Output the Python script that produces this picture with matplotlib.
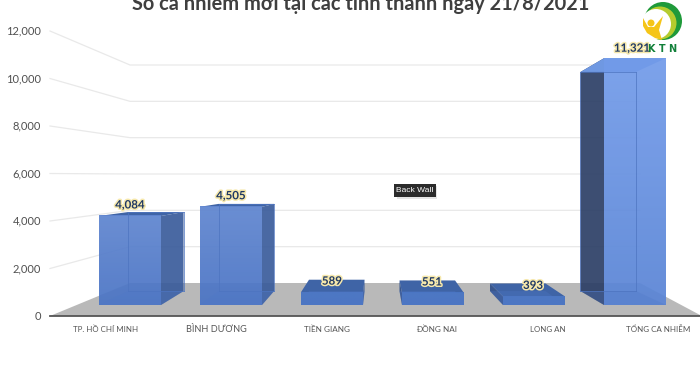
import matplotlib
matplotlib.use("Agg")
import matplotlib.pyplot as plt
import matplotlib.patheffects as pe
import numpy as np
from matplotlib.colors import to_rgb
from matplotlib.patches import Circle, Polygon, Rectangle

categories = ["TP. HỒ CHÍ MINH", "BÌNH DƯƠNG", "TIỀN GIANG", "ĐỒNG NAI", "LONG AN", "TỔNG CA NHIỄM"]
values = [4084, 4505, 589, 551, 393, 11321]
value_labels = ["4,084", "4,505", "589", "551", "393", "11,321"]
y_ticks = [0, 2000, 4000, 6000, 8000, 10000, 12000]
y_tick_labels = ["0", "2,000", "4,000", "6,000", "8,000", "10,000", "12,000"]

# chart geometry, in image pixels
NEAR_BASE = 305
NEAR_SCALE = 0.0218
VP_X, VP_Y = 378, 181
KX, KY = 0.896, 0.888
BAR_LEFT, BAR_STEP, BAR_W = 99, 101, 62
AXIS_Y, WALL_BASE = 316, 283
AXIS_STEP = (316 - 31) / 12000
WALL_STEP = (283 - 65) / 12000
FONT = "Lato"


def far(x, y):
    return VP_X + (x - VP_X) * KX, VP_Y + (y - VP_Y) * KY


def face(ax, pts, color, alpha=1.0, z=3):
    ax.add_patch(Polygon(pts, closed=True, facecolor=color, edgecolor="none", alpha=alpha, zorder=z))


def front(ax, x0, x1, top, c_top, c_bottom, alpha=0.93, z=4):
    grad = np.linspace(to_rgb(c_top), to_rgb(c_bottom), 64)[:, None, :]
    ax.imshow(grad, extent=(x0, x1, NEAR_BASE, top), aspect="auto", alpha=alpha, zorder=z, interpolation="bilinear")


fig = plt.figure(figsize=(7, 3.66), dpi=100)
ax = fig.add_axes([0, 0, 1, 1])

# walls and floor
for v, lab in zip(y_ticks, y_tick_labels):
    y_ax = AXIS_Y - v * AXIS_STEP
    y_wall = WALL_BASE - v * WALL_STEP
    if v > 0:
        ax.plot([50, 130, 640], [y_ax, y_wall, y_wall], color="#e9e9e9", lw=0.9, zorder=1)
    ax.text(41, y_ax, lab, ha="right", va="center", fontsize=8, family=FONT, color="#505050")

face(ax, [(50, AXIS_Y), (130, WALL_BASE), (640, WALL_BASE), (700, 315), (700, AXIS_Y)], "#b9b9b9", z=2)
ax.plot([50, 700], [AXIS_Y, AXIS_Y], color="#555555", lw=1.3, zorder=2)

# bars
for i, v in enumerate(values):
    x0 = BAR_LEFT + i * BAR_STEP
    x1 = x0 + BAR_W
    top = NEAR_BASE - v * NEAR_SCALE
    big = i == 5
    fx0, ft = far(x0, top)
    fx1, _ = far(x1, top)
    _, fb = far(x0, NEAR_BASE)

    if x1 < VP_X:
        face(ax, [(x1, top), (fx1, ft), (fx1, fb), (x1, NEAR_BASE)], "#3a5c9b", 0.92)
    elif x0 > VP_X:
        face(ax, [(x0, top), (fx0, ft), (fx0, fb), (x0, NEAR_BASE)], "#2c3f66" if big else "#2f4f8a", 0.92)
    face(ax, [(fx0, ft), (fx1, ft), (x1, top), (x0, top)], "#6f98e2" if big else "#3f64a6", z=4)
    if big:
        front(ax, x0, x1, top, "#739cea", "#5a85d6")
    elif v > 1000:
        front(ax, x0, x1, top, "#5f85d0", "#4a74c4")
    else:
        front(ax, x0, x1, top, "#4a76c4", "#4a74c2", alpha=0.97)
    # floor of the bar shows through the front
    face(ax, [(x0, NEAR_BASE), (fx0, fb), (fx1, fb), (x1, NEAR_BASE)], "#4f78c8", 0.3, z=5)
    # hidden back edges
    edge = "#4d74c0"
    if v > 1000:
        ax.plot([fx0, fx1], [fb, fb], color=edge, lw=0.5, zorder=6)
        ax.plot([fx0, fx0], [ft, fb], color=edge, lw=0.5, zorder=6)
        ax.plot([fx1, fx1], [ft, fb], color=edge, lw=0.5, zorder=6)
        ax.plot([fx0, fx1], [ft, ft], color=edge, lw=0.5, zorder=6)

# value labels, hand placed like the source
label_dx = [0, 0, 0, -1, -1, -3]
label_dy = [-11, -11, -11, -11, -11, -10]
for i, (v, lab) in enumerate(zip(values, value_labels)):
    x = BAR_LEFT + i * BAR_STEP + BAR_W / 2 + label_dx[i]
    y = NEAR_BASE - v * NEAR_SCALE + label_dy[i]
    ax.text(x, y, lab, ha="center", va="center", fontsize=8.3, fontweight="bold", family=FONT,
            color="#1f3864", zorder=8,
            path_effects=[pe.withStroke(linewidth=2.2, foreground="#f6e8ac")])

# category labels
cat_x = [106, 216, 327, 437, 548, 658]
cat_size = [5.7, 6.6, 5.9, 5.9, 5.7, 5.75]
for x, lab, s in zip(cat_x, categories, cat_size):
    ax.text(x, 329, lab, ha="center", va="center", fontsize=s, family=FONT, color="#555555", zorder=3)

ax.text(361, 2, "Số ca nhiễm mới tại các tỉnh thành ngày 21/8/2021", ha="center", va="center",
        fontsize=14.4, fontweight="bold", family=FONT, color="#3f3f3f", zorder=3)

# "Back Wall" tooltip
ax.add_patch(Rectangle((397, 186), 40, 13, facecolor="#999999", alpha=0.25, edgecolor="none", zorder=8))
ax.add_patch(Rectangle((394, 184), 42, 13, facecolor="#2b2b2b", edgecolor="none", zorder=9))
ax.text(415, 190.5, "Back Wall", ha="center", va="center", fontsize=6, family="Liberation Sans",
        color="white", zorder=10)

# logo
ax.add_patch(Circle((663, 21), 19, facecolor="#1f9a3a", edgecolor="none", zorder=10))
ax.add_patch(Circle((660, 23), 16.5, facecolor="#b5cc2e", edgecolor="none", zorder=10))
ax.add_patch(Circle((656, 24), 15, facecolor="white", edgecolor="none", zorder=10))
ax.add_patch(Circle((651, 23), 3.5, facecolor="#f5c518", edgecolor="none", zorder=11))
ax.add_patch(Polygon([(643, 18), (648, 27), (654, 27), (663, 16), (659, 30), (662, 40), (655, 38), (647, 33), (643, 26)],
                     closed=True, facecolor="#f5c518", edgecolor="none", zorder=11))
ax.text(663, 49, "K T N", ha="center", va="center", fontsize=7, fontweight="bold", family="DejaVu Sans",
        color="#12803a", zorder=11)

ax.set_xlim(0, 700)
ax.set_ylim(366, 0)
ax.axis("off")
fig.savefig("out.png", dpi=100)
